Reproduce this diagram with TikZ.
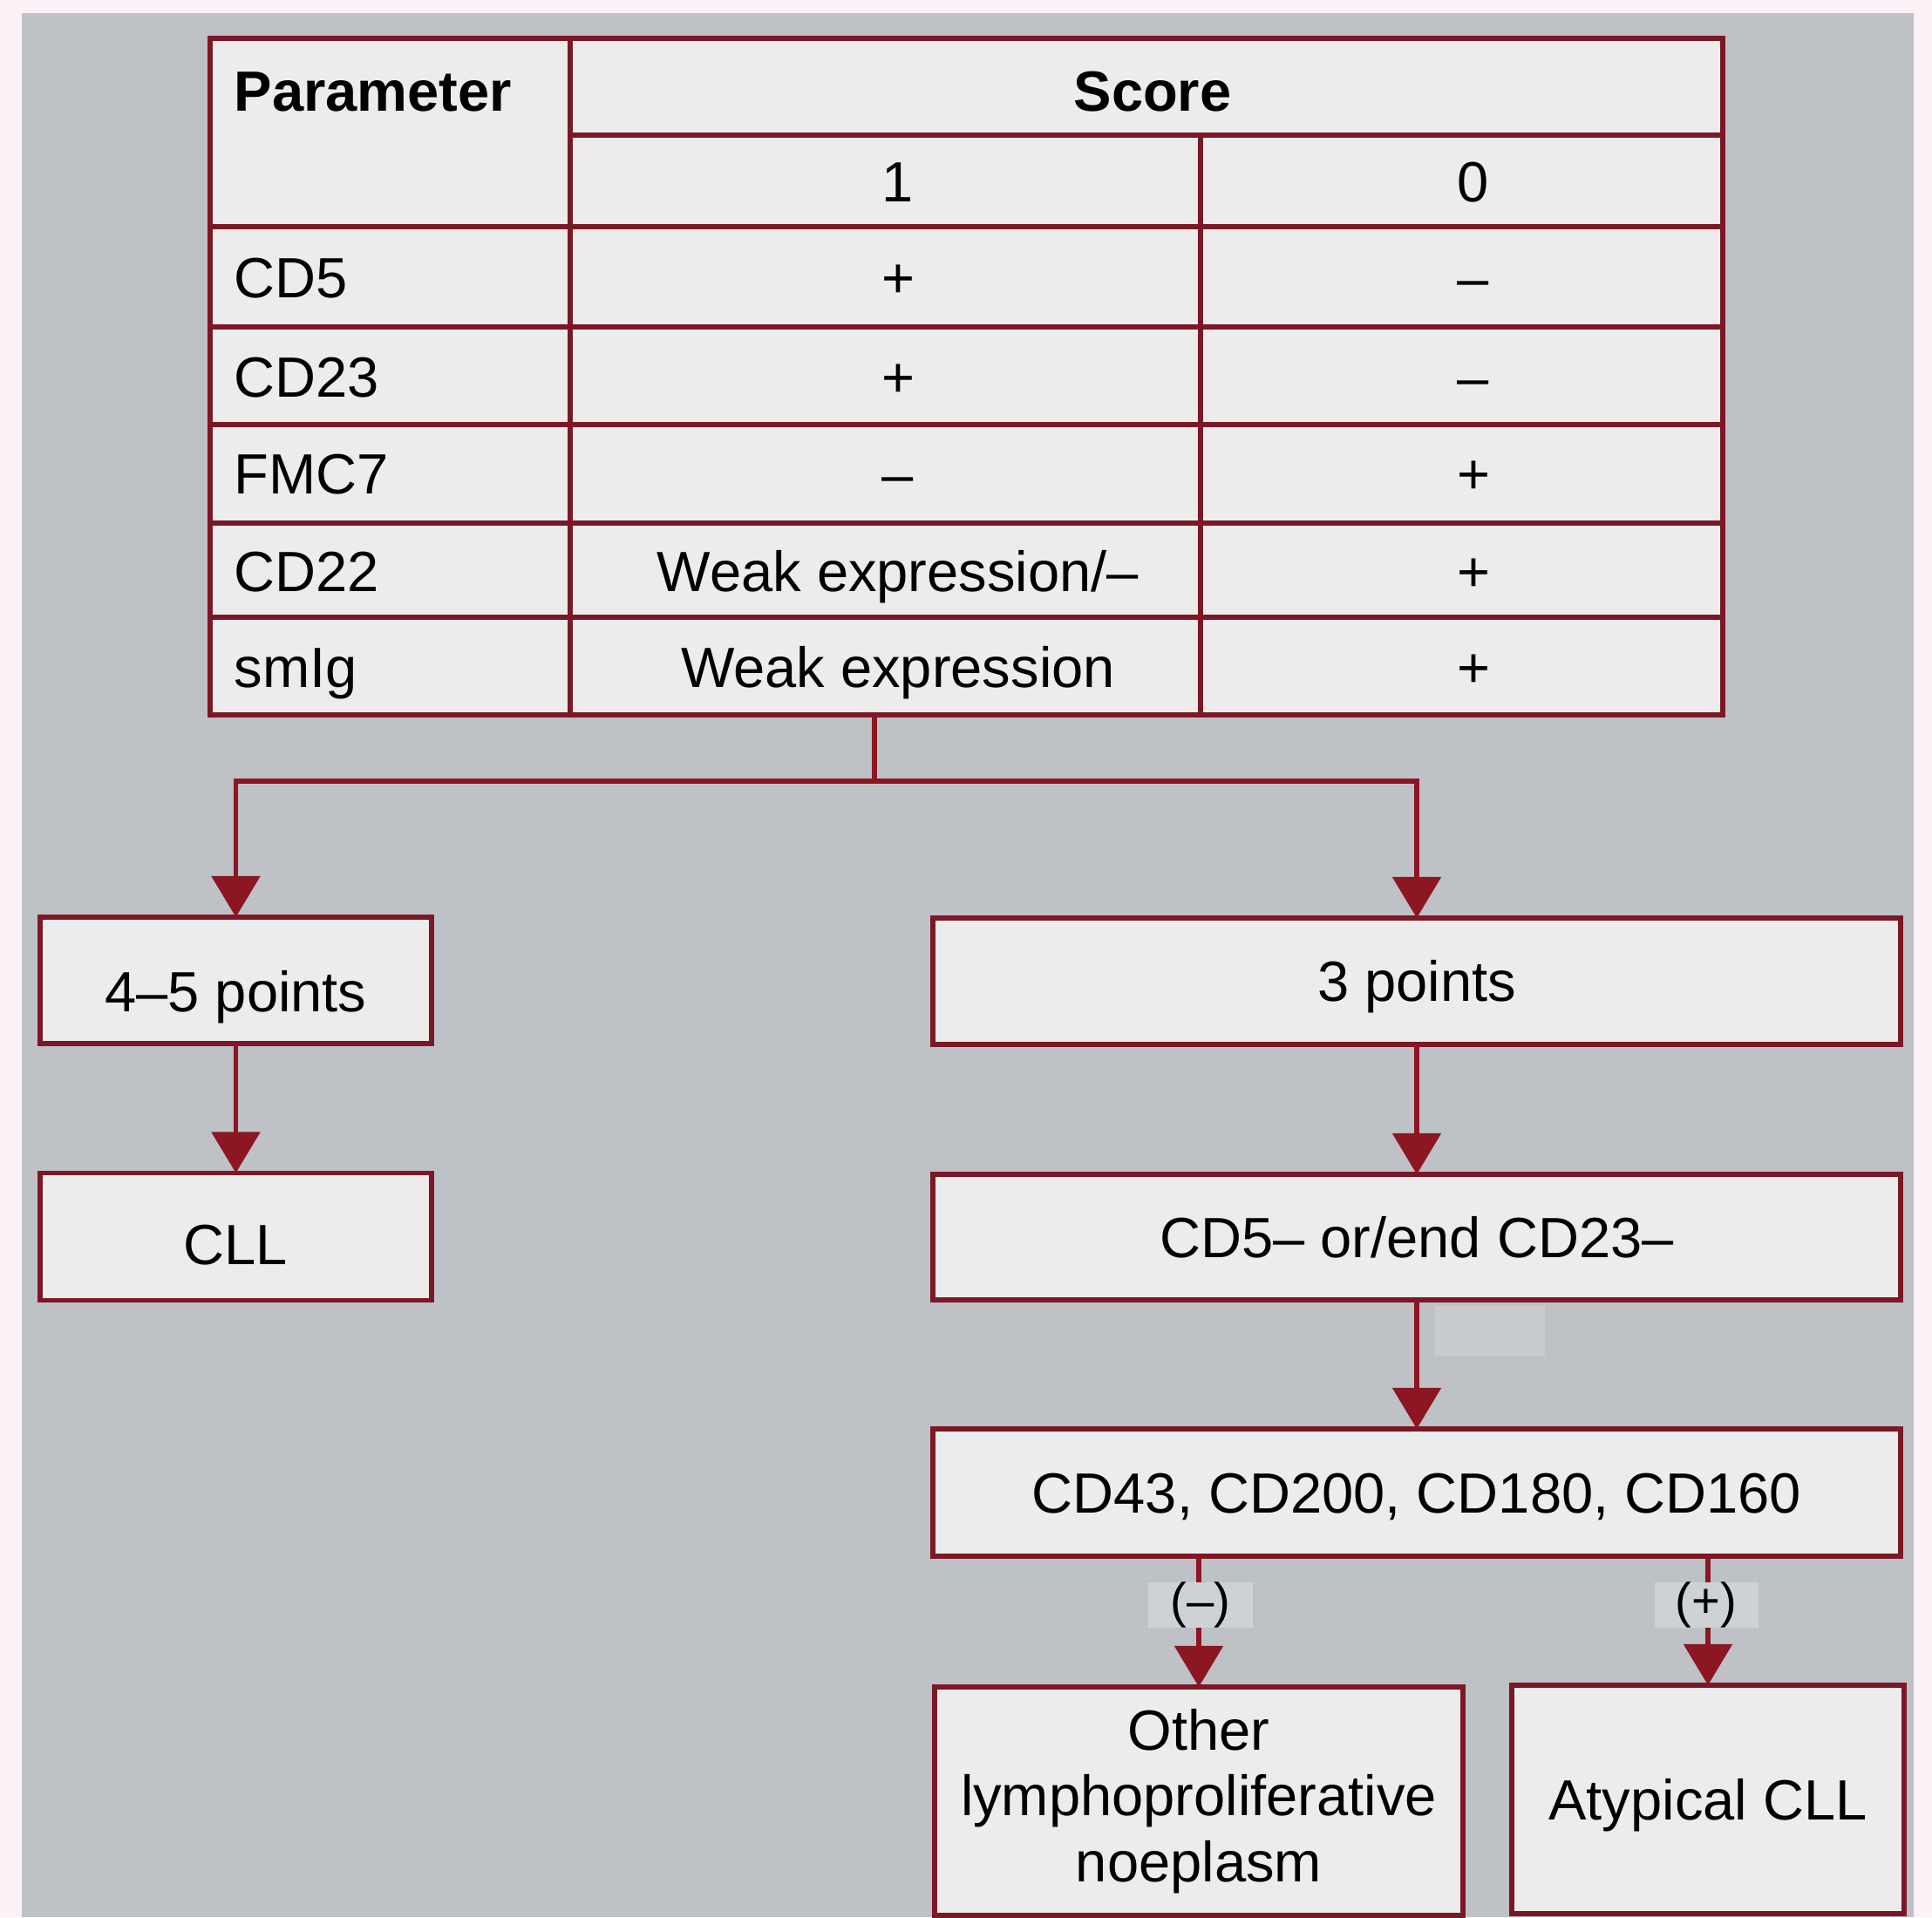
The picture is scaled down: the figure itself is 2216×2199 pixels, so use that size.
\documentclass[tikz,border=0pt]{standalone}
\usepackage{fontspec}
\setmainfont{Liberation Sans}
\usetikzlibrary{arrows.meta}
\definecolor{pagepink}{RGB}{251,241,246}
\definecolor{bggray}{RGB}{190,194,198}
\definecolor{patchgray}{RGB}{201,204,207}
\definecolor{cellfill}{RGB}{236,236,237}
\definecolor{frame}{RGB}{124,24,38}
\definecolor{arrowred}{RGB}{140,22,34}
\definecolor{taggray}{RGB}{207,210,213}

\begin{document}
\begin{tikzpicture}[x=0.01cm, y=-0.01cm,
    txt/.style={inner sep=0pt, text height=13.3pt, text depth=0pt, font=\fontsize{18.5}{21.5}\selectfont},
    hd/.style={txt, font=\fontsize{18.5}{21.5}\selectfont\bfseries},
    rule/.style={draw=frame, line width=1.6pt},
    box/.style={rule, fill=cellfill, inner sep=0pt, outer sep=0pt, align=center, font=\fontsize{18.5}{21.5}\selectfont},
    oneline/.style={text height=#1, text depth=0pt},
    arr/.style={draw=arrowred, line width=1.5pt, -{Triangle[width=0.55cm,length=0.47cm]}},
    tag/.style={fill=taggray, minimum width=1.19cm, minimum height=0.52cm, inner sep=0pt, font=\fontsize{16}{18}\selectfont}]
    % Background
    \useasboundingbox (0,0) rectangle (2216,2199);
    \fill[pagepink] (0,0) rectangle (2216,2199);
    \fill[bggray] (25,15) rectangle (2195,2199);
    \fill[patchgray] (1646,1498) rectangle (1772,1555);

    % Score table
    \draw[rule, fill=cellfill] (241,44) rectangle (1976,820);
    \draw[rule] (654,155) -- (1976,155)
        (241,260) -- (1976,260) (241,375) -- (1976,375) (241,487) -- (1976,487)
        (241,600) -- (1976,600) (241,708) -- (1976,708);
    \draw[rule] (654,44) -- (654,820) (1377,155) -- (1377,820);

    \node[hd, anchor=west] (hpar) at (268,104) {Parameter};
    \node[hd] (hscore) at (1322,104) {Score};
    \node[txt] (hone) at (1030,208) {1};
    \node[txt] (hzero) at (1690,208) {0};

    \node[txt, anchor=west] (pcdfive) at (268,318) {CD5};
    \node[txt] (cdfiveone) at (1030,318) {+};
    \node[txt] (cdfivezero) at (1690,318) {–};

    \node[txt, anchor=west] (pcdtwothree) at (268,432) {CD23};
    \node[txt] (cdtwothreeone) at (1030,432) {+};
    \node[txt] (cdtwothreezero) at (1690,432) {–};

    \node[txt, anchor=west] (pfmc) at (268,543) {FMC7};
    \node[txt] (fmcone) at (1030,543) {–};
    \node[txt] (fmczero) at (1690,543) {+};

    \node[txt, anchor=west] (pcdtwotwo) at (268,655) {CD22};
    \node[txt] (cdtwotwoone) at (1030,655) {Weak expression/–};
    \node[txt] (cdtwotwozero) at (1690,655) {+};

    \node[txt, anchor=west] (psmig) at (268,765) {smIg};
    \node[txt] (smigone) at (1030,765) {Weak expression};
    \node[txt] (smigzero) at (1690,765) {+};

    % Boxes
    \node[box, oneline=20.7pt, minimum width=4.49cm, minimum height=1.45cm] (b45) at (270.5,1124.5) {4–5 points};
    \node[box, oneline=18.4pt, minimum width=4.49cm, minimum height=1.46cm] (cll) at (270.5,1418.5) {CLL};
    \node[box, oneline=13.3pt, minimum width=11.09cm, minimum height=1.45cm] (b3) at (1625,1125.5) {3 points};
    \node[box, oneline=13.3pt, minimum width=11.09cm, minimum height=1.44cm] (cdneg) at (1625,1419) {CD5– or/end CD23–};
    \node[box, oneline=13.3pt, minimum width=11.09cm, minimum height=1.46cm] (markers) at (1625,1712) {CD43, CD200, CD180, CD160};
    \node[box, minimum width=6.06cm, minimum height=2.62cm] (other) at (1375,2066) {Other\\lymphoproliferative\\noeplasm};
    \node[box, oneline=13.3pt, minimum width=4.50cm, minimum height=2.62cm] (atyp) at (1959,2064) {Atypical CLL};

    % Connectors
    \coordinate (tabfoot) at (1003,820);
    \coordinate (split) at (1003,896);
    \draw[draw=arrowred, line width=1.5pt] (tabfoot) -- (split);
    \draw[arr] (split) -| (b45.north);
    \draw[arr] (split) -| (b3.north);
    \draw[arr] (b45) -- (cll);
    \draw[arr] (b3) -- (cdneg);
    \draw[arr] (cdneg) -- (markers);
    \draw[arr] (markers.south -| other.north) -- (other.north);
    \draw[arr] (markers.south -| atyp.north) -- (atyp.north);

    % Labels
    \node[tag] (neg) at (1377,1841) {(–)};
    \node[tag] (pos) at (1957,1841) {(+)};
\end{tikzpicture}
\end{document}
